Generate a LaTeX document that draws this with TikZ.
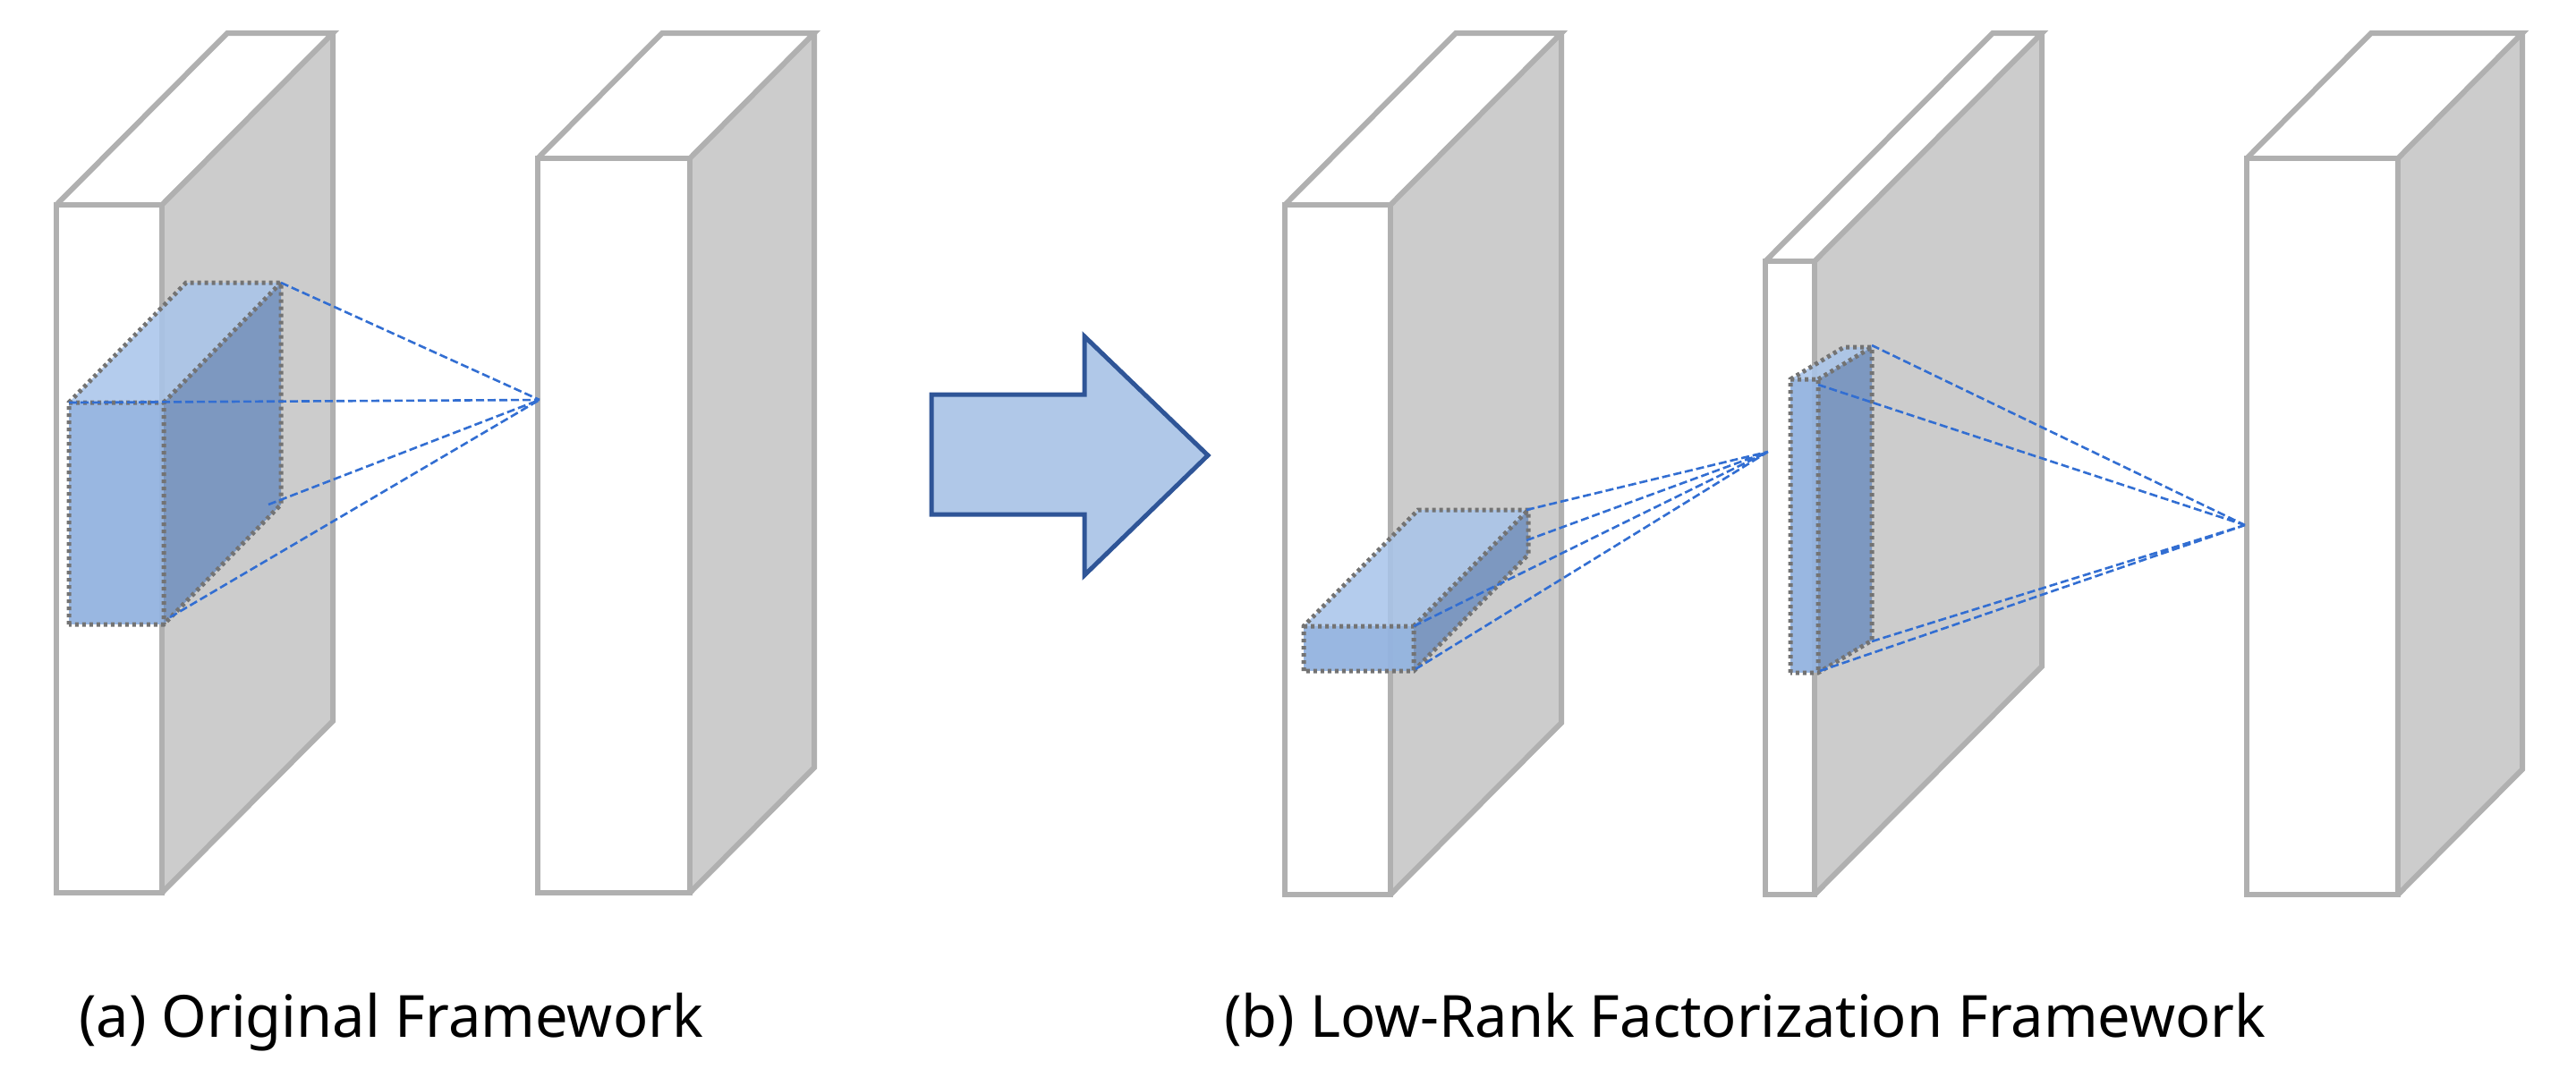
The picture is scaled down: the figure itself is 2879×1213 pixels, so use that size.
\documentclass[tikz,border=0pt]{standalone}
\usepackage{fontspec}
\setmainfont{Noto Sans}
\begin{document}
\newcommand\myslab[6]{%
 \fill[sidegray] (#2,#3)--++(#5,#6)--(#2+#5,#4+#6)--(#2,#4)--cycle;
 \draw[slabline] (#1,#3)--++(#5,#6)--(#2+#5,#3+#6)--(#2,#3);
 \draw[slabline] (#2+#5,#3+#6)--(#2+#5,#4+#6)--(#2,#4);
 \draw[slabline,fill=white] (#1,#3) rectangle (#2,#4);}
\newcommand\mybox[6]{% front x1 x2 ytop ybot dx dy
 \fill[ktop,opacity=.85] (#1,#3)--++(#5,#6)--(#2+#5,#3+#6)--(#2,#3)--cycle;
 \fill[kside,opacity=.85] (#2,#3)--++(#5,#6)--(#2+#5,#4+#6)--(#2,#4)--cycle;
 \fill[kfront,opacity=.95] (#1,#3) rectangle (#2,#4);
 \draw[kline] (#1,#4)--(#1,#3)--++(#5,#6)--(#2+#5,#3+#6)--(#2+#5,#4+#6)--(#2,#4)--cycle;
 \draw[kline] (#1,#3)--(#2,#3)--(#2,#4) (#2,#3)--(#2+#5,#3+#6);}
\begin{tikzpicture}[x=1pt,y=-1pt,
 sidegray/.style={fill=black!20},
 slabline/.style={draw=black!31,line width=6pt,line join=miter},
 kline/.style={draw=black!55,line width=5pt,dash pattern=on 4pt off 4pt},
 conn/.style={draw={rgb,255:red,50;green,110;blue,210},line width=2.6pt,dash pattern=on 9pt off 4pt},
 kfront/.style={fill={rgb,255:red,148;green,180;blue,224}},
 ktop/.style={fill={rgb,255:red,168;green,196;blue,234}},
 kside/.style={fill={rgb,255:red,112;green,144;blue,190}}]
\useasboundingbox (0,0) rectangle (2879,1213);
% panel a
\myslab{63}{181}{229}{998}{191}{-192}
\myslab{601}{771}{177}{998}{139}{-140}
\mybox{77}{183}{450}{698}{131}{-134}
\coordinate (apexA) at (603,447);
\coordinate (cA1) at (314,316);\coordinate (cA2) at (77,450);
\coordinate (cA3) at (300,564);\coordinate (cA4) at (190,690);
\draw[conn] (cA1)--(apexA) (cA2)--(apexA) (cA3)--(apexA) (cA4)--(apexA);
% arrow
\draw[draw={rgb,255:red,47;green,85;blue,151},fill={rgb,255:red,176;green,200;blue,232},line width=5pt,line join=miter]
 (1041,441)--(1212,441)--(1212,376)--(1350,509)--(1212,643)--(1212,575)--(1041,575)--cycle;
% panel b
\myslab{1436}{1554}{229}{1000}{191}{-192}
\myslab{1973}{2028}{292}{1000}{254}{-255}
\myslab{2511}{2680}{177}{1000}{139}{-140}
\mybox{1457}{1580}{700}{750}{128}{-130}
\mybox{2001}{2032}{424}{752}{60}{-36}
\coordinate (apexB) at (1976,505);
\coordinate (cB1) at (1706,570);\coordinate (cB2) at (1706,604);
\coordinate (cB3) at (1580,700);\coordinate (cB4) at (1582,748);
\draw[conn] (cB1)--(apexB) (cB2)--(apexB) (cB3)--(apexB) (cB4)--(apexB);
\coordinate (apexC) at (2509,587);
\coordinate (cC1) at (2092,386);\coordinate (cC2) at (2032,430);
\coordinate (cC3) at (2092,717);\coordinate (cC4) at (2034,750);
\draw[conn] (cC1)--(apexC) (cC2)--(apexC) (cC3)--(apexC) (cC4)--(apexC);
\node[anchor=base west,font=\fontsize{65}{75}\selectfont,inner sep=0] (capA) at (88,1159) {(a) Original Framework};
\node[anchor=base west,font=\fontsize{65}{75}\selectfont,inner sep=0] (capB) at (1368,1159) {(b) Low-Rank Factorization Framework};
\end{tikzpicture}
\end{document}
